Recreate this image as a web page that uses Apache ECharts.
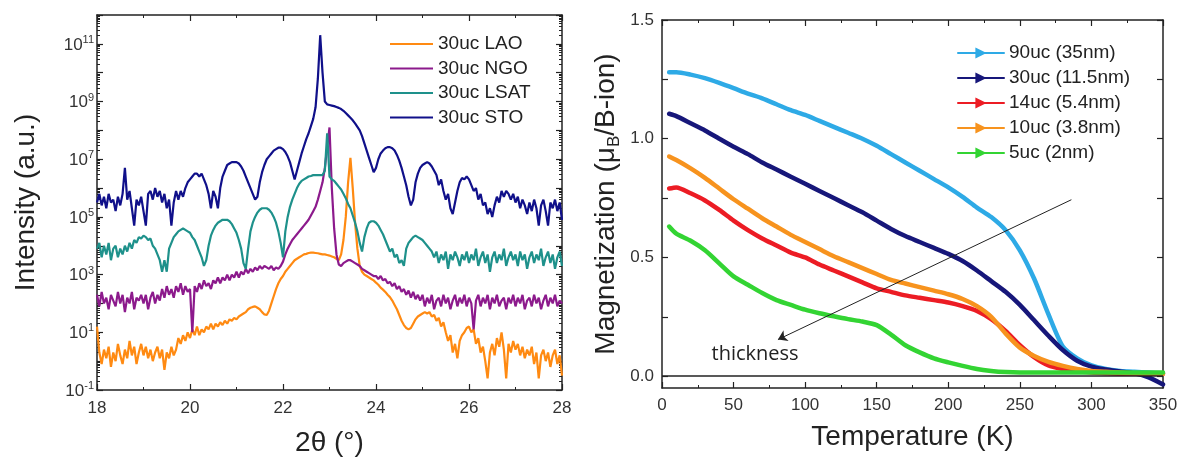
<!DOCTYPE html>
<html><head><meta charset="utf-8">
<script src="https://cdn.jsdelivr.net/npm/echarts@6/dist/echarts.min.js"></script>
<style>html,body{margin:0;padding:0;background:#fff}#c{width:1179px;height:457px}</style>
</head><body><div id="c"></div>
<script>
const FONT = '"Liberation Sans", Arial, sans-serif';

// ---------- Left panel: XRD, log10(intensity) sampled every 0.05 deg from 18 to 28 ----------
const TWO_THETA_START = 18, TWO_THETA_STEP = 0.05, TWO_THETA_COUNT = 201;
const xrdNames = ['30uc LAO', '30uc NGO', '30uc LSAT', '30uc STO'];
const xrdXTicks = [18, 20, 22, 24, 26, 28];
const xrdYExponents = [-1, 1, 3, 5, 7, 9, 11];

const logLAO = [
 1.2,0.3,-0.1,0.4,0.1,0.5,-0.2,0.3,0.0,0.6,0.2,-0.1,0.4,0.1,0.7,0.2,0.5,-0.1,0.3,0.6,
 0.2,0.5,0.1,0.4,0.0,0.3,0.5,0.1,0.4,-0.3,0.3,0.1,0.5,0.2,0.4,0.8,0.6,0.9,0.7,1.0,
 0.8,1.1,0.9,1.2,0.9,1.1,1.0,1.2,1.1,1.3,1.1,1.3,1.2,1.35,1.25,1.4,1.3,1.45,1.4,1.5,
 1.45,1.55,1.6,1.65,1.7,1.8,1.85,1.88,1.9,1.85,1.8,1.7,1.62,1.6,1.75,2.0,2.25,2.5,2.7,2.85,
 2.95,3.1,3.2,3.3,3.4,3.5,3.55,3.6,3.65,3.7,3.72,3.75,3.76,3.76,3.75,3.74,3.72,3.7,3.7,3.68,
 3.66,3.63,3.6,3.55,3.5,3.7,4.2,5.0,6.2,7.05,6.0,4.8,3.9,3.3,3.1,3.0,2.95,2.9,2.85,2.8,
 2.72,2.65,2.55,2.48,2.4,2.3,2.22,2.1,1.95,1.8,1.6,1.4,1.25,1.15,1.1,1.15,1.3,1.45,1.55,1.6,
 1.65,1.7,1.65,1.7,1.55,1.6,1.4,1.5,1.2,1.35,1.0,0.7,0.9,0.3,0.6,0.1,0.7,0.9,1.0,1.15,
 1.2,1.0,1.1,0.6,0.8,0.3,0.5,0.0,-0.6,0.3,0.6,0.2,0.8,0.5,1.0,0.4,-0.6,0.6,0.3,0.7,
 0.4,0.6,0.2,0.5,0.1,0.4,0.2,0.5,-0.1,0.3,-0.6,0.2,0.4,0.0,0.3,-0.2,0.2,0.4,-0.1,0.2,
 -0.5];
const logNGO = [
 2.3,1.9,2.4,2.0,2.2,1.8,2.3,2.1,1.9,2.4,2.0,2.3,1.7,2.2,2.0,2.4,1.8,2.2,2.1,2.3,
 2.0,2.3,1.8,2.2,2.4,2.0,2.3,2.1,2.5,2.2,2.6,2.3,2.5,2.2,2.6,2.4,2.7,2.3,2.6,2.4,
 2.5,1.0,2.6,2.4,2.7,2.5,2.8,2.6,2.7,2.5,2.8,2.7,2.9,2.7,2.9,2.8,3.0,2.8,3.0,2.9,
 3.1,2.9,3.1,3.0,3.2,3.05,3.2,3.1,3.25,3.15,3.3,3.2,3.3,3.25,3.2,3.3,3.15,3.25,3.2,3.3,
 3.45,3.7,3.9,4.05,4.2,4.3,4.4,4.5,4.6,4.7,4.8,4.9,5.05,5.2,5.35,5.6,5.9,6.2,6.7,7.4,
 8.1,6.0,4.6,3.7,3.35,3.3,3.4,3.45,3.5,3.5,3.45,3.4,3.35,3.3,3.2,3.15,3.1,3.05,3.0,2.95,
 2.95,2.85,2.95,2.8,2.85,2.7,2.75,2.6,2.7,2.5,2.6,2.4,2.5,2.3,2.45,2.2,2.4,2.15,2.3,2.1,
 2.3,1.9,2.2,2.0,2.3,1.8,2.1,2.2,1.9,2.3,2.0,2.2,1.8,2.1,2.3,1.9,2.2,2.0,2.3,1.9,
 2.2,2.0,1.1,2.1,2.3,1.9,2.2,2.0,2.3,1.8,2.2,2.0,2.3,1.9,2.1,2.2,1.8,2.2,2.0,2.3,
 1.9,2.2,2.0,2.3,1.8,2.1,2.2,1.9,2.3,2.0,2.2,1.8,2.1,2.3,1.9,2.2,2.0,2.3,1.9,2.1,
 2.0];
const logLSAT = [
 3.9,4.1,3.6,4.0,3.7,4.1,3.5,3.9,4.0,3.6,3.9,3.7,4.0,3.8,4.1,3.9,4.2,4.1,4.3,4.25,
 4.35,4.3,4.2,4.25,4.0,3.9,3.7,3.5,3.1,3.5,3.1,3.9,4.1,4.3,4.4,4.5,4.55,4.6,4.55,4.5,
 4.45,4.3,4.2,4.0,3.8,3.6,3.3,3.5,4.0,4.35,4.55,4.7,4.8,4.85,4.9,4.9,4.9,4.85,4.75,4.6,
 4.45,4.2,3.9,3.4,3.2,3.9,4.5,4.8,5.0,5.15,5.25,5.3,5.3,5.3,5.25,5.15,5.0,4.8,4.5,4.1,
 3.6,4.5,5.0,5.35,5.6,5.8,6.0,6.15,6.25,6.3,6.35,6.4,6.42,6.45,6.45,6.45,6.45,6.45,6.6,7.9,
 6.4,6.3,6.25,6.15,6.05,5.95,5.8,5.65,5.45,5.3,5.05,4.8,4.5,4.1,3.8,4.3,4.6,4.8,4.85,4.85,
 4.8,4.7,4.55,4.4,4.2,4.0,3.8,3.9,3.6,3.7,3.4,3.5,3.3,3.9,4.1,4.2,4.3,4.35,4.3,4.25,
 4.2,4.1,4.0,3.9,3.8,3.6,3.8,3.4,3.7,3.5,3.8,3.2,3.7,3.5,3.8,3.6,3.3,3.7,3.5,3.8,
 3.4,3.7,3.5,3.9,3.3,3.6,3.8,3.4,3.7,3.1,3.6,3.8,3.4,3.7,3.5,3.9,3.3,3.6,3.8,3.5,
 3.7,3.3,3.8,3.5,3.7,3.2,3.6,3.8,3.4,3.7,3.5,3.9,3.3,3.6,3.8,3.4,3.7,3.2,3.6,3.8,
 3.3];
const logSTO = [
 5.5,5.8,5.4,5.7,5.3,5.8,5.5,5.6,5.2,5.7,5.4,5.8,6.7,5.6,5.9,5.3,4.7,5.6,5.4,5.7,
 5.2,4.7,5.8,5.9,5.6,6.0,5.7,5.9,5.5,5.8,5.3,5.6,4.7,5.5,5.9,5.6,5.9,5.7,6.0,6.2,
 6.3,6.4,6.5,6.5,6.4,6.5,6.3,6.1,5.8,5.3,5.9,5.7,5.3,6.0,6.4,6.6,6.8,6.85,6.9,6.9,
 6.9,6.85,6.75,6.6,6.4,6.2,6.0,5.8,5.6,5.7,6.2,6.55,6.8,7.0,7.1,7.2,7.3,7.35,7.4,7.4,
 7.35,7.25,7.1,6.9,6.6,6.3,6.6,6.9,7.2,7.45,7.7,7.9,8.15,8.4,8.8,9.8,11.3,10.0,9.0,8.9,
 8.88,8.86,8.84,8.81,8.78,8.74,8.68,8.6,8.52,8.44,8.35,8.24,8.12,8.0,7.8,7.55,7.3,7.05,6.8,6.55,
 6.7,7.0,7.2,7.3,7.38,7.42,7.42,7.38,7.3,7.15,6.95,6.7,6.4,6.1,5.7,5.4,5.6,6.2,6.5,6.7,
 6.8,6.85,6.9,6.85,6.75,6.6,6.45,6.1,6.3,5.9,5.6,5.8,5.3,5.1,5.5,5.9,6.2,6.35,6.3,6.4,
 6.3,6.1,5.9,6.0,5.6,5.8,5.4,5.5,5.1,5.3,5.0,5.4,5.7,5.5,5.9,5.7,5.9,5.8,5.6,5.8,
 5.5,5.7,5.3,5.6,5.4,5.1,5.5,5.2,5.6,5.3,4.7,5.4,5.6,5.2,4.7,5.5,5.3,5.6,5.2,5.5,
 4.9];

// ---------- Right panel: magnetization vs temperature ----------
const magNames = ['90uc (35nm)', '30uc (11.5nm)', '14uc (5.4nm)', '10uc (3.8nm)', '5uc (2nm)'];
const magXTicks = [0, 50, 100, 150, 200, 250, 300, 350];
const magYTicks = [0, 0.5, 1.0, 1.5];
const tempK = [5,10,20,30,40,50,60,70,80,90,100,110,120,130,140,150,160,170,180,190,200,210,220,230,240,250,260,270,280,290,300,310,320,330,340,350];
const m90uc = [1.28,1.28,1.27,1.255,1.235,1.213,1.19,1.17,1.145,1.12,1.10,1.075,1.05,1.025,1.0,0.97,0.935,0.90,0.865,0.83,0.795,0.755,0.71,0.67,0.615,0.53,0.41,0.26,0.125,0.075,0.045,0.03,0.022,0.018,0.015,0.012];
const m30uc = [1.105,1.095,1.065,1.035,1.0,0.966,0.935,0.90,0.87,0.84,0.81,0.78,0.75,0.72,0.69,0.655,0.62,0.59,0.565,0.54,0.515,0.485,0.445,0.40,0.355,0.30,0.235,0.17,0.11,0.065,0.04,0.028,0.02,0.012,-0.005,-0.035];
const m14uc = [0.79,0.795,0.77,0.74,0.70,0.655,0.615,0.58,0.55,0.52,0.50,0.47,0.445,0.42,0.395,0.37,0.355,0.34,0.33,0.32,0.31,0.295,0.275,0.24,0.19,0.13,0.08,0.045,0.03,0.02,0.015,0.012,0.01,0.01,0.01,0.01];
const m10uc = [0.925,0.91,0.875,0.835,0.79,0.745,0.705,0.665,0.63,0.595,0.565,0.535,0.505,0.48,0.455,0.43,0.405,0.39,0.375,0.36,0.345,0.325,0.295,0.25,0.18,0.12,0.085,0.06,0.043,0.03,0.022,0.018,0.015,0.012,0.01,0.01];
const m5uc = [0.63,0.60,0.57,0.53,0.475,0.42,0.385,0.35,0.32,0.30,0.28,0.265,0.252,0.24,0.23,0.215,0.175,0.13,0.10,0.075,0.058,0.043,0.03,0.022,0.017,0.015,0.015,0.015,0.015,0.015,0.015,0.015,0.015,0.015,0.015,0.015];
const arrowFrom = [286, 0.743], arrowTo = [81, 0.154];
const noteAt = [65, 0.09];

// ---------- build ----------
const twoTheta = Array.from({length: TWO_THETA_COUNT}, (_, i) => +(TWO_THETA_START + i * TWO_THETA_STEP).toFixed(2));
const pairs = (xs, ys) => xs.map((x, i) => [x, ys[i]]);
const minorLog = [];
for (let n = -1; n < 12; n++) for (let k = 2; k <= 9; k++) minorLog.push(n + Math.log10(k));
const magTickVals = [0, 0.25, 0.5, 0.75, 1.0, 1.25, 1.5];

const axisLine = {show: true, onZero: false, lineStyle: {color: '#222', width: 1.5}};
const lblStyle = {color: '#333', fontSize: 17, fontFamily: FONT};
const nameStyle = {color: '#222', fontSize: 28, fontFamily: FONT};
const tick = {inside: true, length: 6, lineStyle: {color: '#222', width: 1.2}};
const minor = {show: true, splitNumber: 2, length: 3, lineStyle: {color: '#222'}};

const xrdColors = ['#ff8a12', '#8c1a8c', '#1e918b', '#10108a'];
const magColors = ['#2eaae6', '#17177a', '#ec1c24', '#f7931e', '#33d433'];

const series = [];
[logLAO, logNGO, logLSAT, logSTO].forEach((arr, i) => series.push({
  name: xrdNames[i], type: 'line', xAxisIndex: 0, yAxisIndex: 0,
  data: pairs(twoTheta, arr), symbol: 'none', showSymbol: false,
  lineStyle: {color: xrdColors[i], width: 2.2}, itemStyle: {color: xrdColors[i]}, z: 3
}));
[m90uc, m30uc, m14uc, m10uc, m5uc].forEach((arr, i) => series.push({
  name: magNames[i], type: 'line', xAxisIndex: 2, yAxisIndex: 4,
  data: pairs(tempK, arr), symbol: 'triangle', symbolRotate: -90, symbolSize: 5, showSymbol: false,
  smooth: 0.25,
  lineStyle: {color: magColors[i], width: 4.5, join: 'round', cap: 'round'}, itemStyle: {color: magColors[i]}, z: 3
}));
// zero line under the curves
series[4].markLine = {silent: true, symbol: ['none', 'none'], label: {show: false},
  lineStyle: {color: '#222', width: 1.5, type: 'solid'}, data: [{yAxis: 0}]};
// thickness arrow and note on top
series[8].markLine = {silent: true, symbol: ['none', 'arrow'], symbolSize: 9, label: {show: false},
  lineStyle: {color: '#222', width: 1, type: 'solid'},
  data: [[{coord: arrowFrom}, {coord: arrowTo}]]};
series[8].markPoint = {silent: true, symbol: 'circle', symbolSize: 1, itemStyle: {color: 'rgba(0,0,0,0)'},
  label: {show: true, position: 'inside', formatter: 'thickness', color: '#222', fontSize: 20, fontFamily: '"Open Sans", sans-serif'},
  data: [{coord: noteAt}]};

const option = {
  animation: false,
  backgroundColor: '#fff',
  textStyle: {fontFamily: FONT},
  grid: [
    {left: 97, top: 15, width: 465, height: 375, containLabel: false, outerBoundsMode: 'none'},
    {left: 662, top: 20, width: 501, height: 368, containLabel: false, outerBoundsMode: 'none'}
  ],
  legend: [
    {data: xrdNames, orient: 'vertical', left: 385, top: 29.5, itemWidth: 43, itemHeight: 14, itemGap: 5.5,
     icon: 'path://M0,6h43v2h-43z',
     textStyle: {fontSize: 19, color: '#222', fontFamily: FONT, lineHeight: 19}},
    {data: magNames, orient: 'vertical', left: 952, top: 38.5, itemWidth: 46, itemHeight: 14, itemGap: 6,
     textStyle: {fontSize: 19, color: '#222', fontFamily: FONT, lineHeight: 19}}
  ],
  xAxis: [
    {type: 'value', gridIndex: 0, position: 'bottom', min: 18, max: 28, interval: 2,
     axisLine, axisTick: tick, minorTick: minor,
     axisLabel: Object.assign({margin: 10, customValues: xrdXTicks}, lblStyle), splitLine: {show: false},
     name: '2θ (°)', nameLocation: 'middle', nameGap: 39, nameTextStyle: nameStyle},
    {type: 'value', gridIndex: 0, position: 'top', min: 18, max: 28, interval: 2,
     axisLine, axisTick: tick, minorTick: minor,
     axisLabel: {show: false}, splitLine: {show: false}},
    {type: 'value', gridIndex: 1, position: 'bottom', min: 0, max: 350, interval: 50,
     axisLine, axisTick: tick, minorTick: minor,
     axisLabel: Object.assign({margin: 9, customValues: magXTicks}, lblStyle), splitLine: {show: false},
     name: 'Temperature (K)', nameLocation: 'middle', nameGap: 35, nameTextStyle: nameStyle},
    {type: 'value', gridIndex: 1, position: 'top', min: 0, max: 350, interval: 50,
     axisLine, axisTick: tick, minorTick: minor,
     axisLabel: {show: false}, splitLine: {show: false}}
  ],
  yAxis: [
    {type: 'value', gridIndex: 0, position: 'left', min: -1, max: 12, interval: 1,
     axisLine, axisTick: tick,
     axisLabel: {customValues: xrdYExponents, margin: 3, color: '#333',
       formatter: v => '{b|10}{s|' + Math.round(v) + '}',
       rich: {b: {fontSize: 17, lineHeight: 19, color: '#333', fontFamily: FONT, verticalAlign: 'bottom'},
              s: {fontSize: 11, lineHeight: 12, color: '#333', fontFamily: FONT, verticalAlign: 'top'}}},
     splitLine: {show: false},
     name: 'Intensity (a.u.)', nameLocation: 'middle', nameGap: 57, nameTextStyle: nameStyle},
    {type: 'value', gridIndex: 0, position: 'left', min: -1, max: 12,
     axisLine: {show: false}, axisTick: {inside: true, length: 3, customValues: minorLog, lineStyle: {color: '#222'}},
     axisLabel: {show: false}, splitLine: {show: false}},
    {type: 'value', gridIndex: 0, position: 'right', min: -1, max: 12, interval: 1,
     axisLine, axisTick: tick,
     axisLabel: {show: false}, splitLine: {show: false}},
    {type: 'value', gridIndex: 0, position: 'right', min: -1, max: 12,
     axisLine: {show: false}, axisTick: {inside: true, length: 3, customValues: minorLog, lineStyle: {color: '#222'}},
     axisLabel: {show: false}, splitLine: {show: false}},
    {type: 'value', gridIndex: 1, position: 'left', min: -0.05, max: 1.5,
     axisLine, axisTick: Object.assign({customValues: magTickVals}, tick),
     axisLabel: Object.assign({margin: 8, customValues: magYTicks, formatter: v => v.toFixed(1)}, lblStyle),
     splitLine: {show: false},
     name: '{n|Magnetization (}{n|μ}{sub|B}{n|/B-ion)}', nameLocation: 'middle', nameGap: 39,
     nameTextStyle: {color: '#222', fontFamily: FONT,
       rich: {n: {fontSize: 28, lineHeight: 34, color: '#222', fontFamily: FONT},
              sub: {fontSize: 17, lineHeight: 17, color: '#222', fontFamily: FONT, verticalAlign: 'bottom'}}}},
    {type: 'value', gridIndex: 1, position: 'right', min: -0.05, max: 1.5,
     axisLine, axisTick: Object.assign({customValues: magTickVals}, tick),
     axisLabel: {show: false}, splitLine: {show: false}}
  ],
  series
};
const chart = echarts.init(document.getElementById('c'), null, {renderer: 'canvas'});
chart.setOption(option);
</script>
</body></html>
